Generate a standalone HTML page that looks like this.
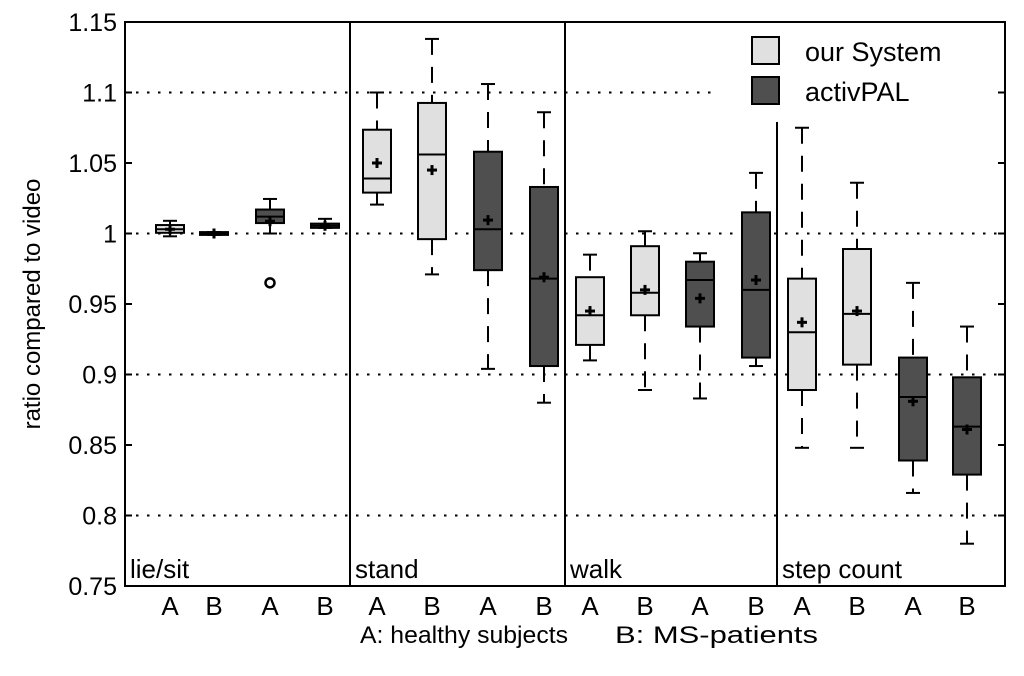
<!DOCTYPE html>
<html><head><meta charset="utf-8"><style>
body{margin:0;background:#fff;}
svg text{font-family:"Liberation Sans",sans-serif;fill:#000;}
</style></head><body>
<svg id="chart" width="1024" height="671" xmlns="http://www.w3.org/2000/svg">
<g id="grid"></g><g id="boxes"></g><g id="axes"></g>
</svg>
<script>
const categories=["lie/sit","stand","walk","step count"];
const groupLabels=["A","B","A","B"];
const yTicks=[0.75,0.8,0.85,0.9,0.95,1,1.05,1.1,1.15];
const yTickLabels=["0.75","0.8","0.85","0.9","0.95","1","1.05","1.1","1.15"];
const gridValues=[0.8,0.9,1,1.1];
const lowVals=[0.998,0.999,1.0,1.004, 1.0205,0.971,0.904,0.88, 0.910,0.889,0.883,0.906, 0.848,0.848,0.816,0.78];
const q1Vals=[1.0005,0.999,1.0074,1.004, 1.029,0.996,0.974,0.906, 0.921,0.942,0.934,0.912, 0.889,0.907,0.839,0.829];
const medVals=[1.003,1.0,1.012,1.0055, 1.039,1.056,1.003,0.968, 0.942,0.958,0.967,0.96, 0.930,0.943,0.884,0.863];
const q3Vals=[1.006,1.001,1.017,1.007, 1.0736,1.0926,1.058,1.033, 0.969,0.991,0.980,1.015, 0.968,0.989,0.912,0.898];
const highVals=[1.009,1.001,1.0245,1.0104, 1.1,1.138,1.106,1.086, 0.985,1.0016,0.986,1.043, 1.075,1.036,0.965,0.934];
const meanVals=[1.003,1.0,1.0087,1.0055, 1.05,1.045,1.0095,0.969, 0.945,0.96,0.954,0.967, 0.937,0.945,0.881,0.861];
const outliers=[[2,0.965]];

const NS="http://www.w3.org/2000/svg";
const L=125,R=1005,T=22,B=586;
const secStart=[125,350,565,777];
const slotOff=[[45,89,145,200],[27,82,138,194],[25,80,135,191],[25,80,136,190]];
const y=v=>B-(v-0.75)/(0.4)*(B-T);
const x=i=>secStart[Math.floor(i/4)]+slotOff[Math.floor(i/4)][i%4];
function mk(p,tag,attrs){const e=document.createElementNS(NS,tag);for(const k in attrs)e.setAttribute(k,attrs[k]);p.appendChild(e);return e;}
const grid=document.getElementById('grid'),boxes=document.getElementById('boxes'),axes=document.getElementById('axes');
gridValues.forEach(v=>{
 const xe=(v===1.1)?718:R;
 const g=mk(grid,'line',{x1:L,x2:xe,y1:y(v),y2:y(v),stroke:'#000','stroke-width':2,'stroke-dasharray':'2.5,8.5'});
 
 
});
const bw=28;
for(let i=0;i<16;i++){
 const cx=x(i),dark=(i%4)>=2;
 const g=mk(boxes,'g',{});
 
 
 mk(g,'line',{x1:cx,x2:cx,y1:y(highVals[i]),y2:y(q3Vals[i]),stroke:'#000','stroke-width':2,'stroke-dasharray':'16,12'});
 mk(g,'line',{x1:cx,x2:cx,y1:y(q1Vals[i]),y2:y(lowVals[i]),stroke:'#000','stroke-width':2,'stroke-dasharray':'16,12'});
 mk(g,'line',{x1:cx-7,x2:cx+7,y1:y(highVals[i]),y2:y(highVals[i]),stroke:'#000','stroke-width':2});
 mk(g,'line',{x1:cx-7,x2:cx+7,y1:y(lowVals[i]),y2:y(lowVals[i]),stroke:'#000','stroke-width':2});
 const yt=y(q3Vals[i]),yb=y(q1Vals[i]);
 mk(g,'rect',{x:cx-bw/2,y:yt,width:bw,height:Math.max(yb-yt,2),fill:dark?'#4f4f4f':'#e0e0e0',stroke:'#000','stroke-width':2});
 mk(g,'line',{x1:cx-bw/2,x2:cx+bw/2,y1:y(medVals[i]),y2:y(medVals[i]),stroke:'#000','stroke-width':2});
 const my=y(meanVals[i]);
 mk(g,'line',{x1:cx-5,x2:cx+5,y1:my,y2:my,stroke:'#000','stroke-width':3});
 mk(g,'line',{x1:cx,x2:cx,y1:my-5,y2:my+5,stroke:'#000','stroke-width':3});
}
outliers.forEach(o=>{const c=mk(boxes,'circle',{cx:x(o[0]),cy:y(o[1]),r:4.5,fill:'#fff',stroke:'#000','stroke-width':2.5});
 
 });
const fr=mk(axes,'rect',{x:L,y:T,width:R-L,height:B-T,fill:'none',stroke:'#000','stroke-width':2});


for(let s=1;s<4;s++){
 const d=mk(axes,'line',{x1:secStart[s],x2:secStart[s],y1:(s===3?122:T),y2:B,stroke:'#000','stroke-width':2});
 
 
}
categories.forEach((c,s)=>{const t=mk(axes,'text',{x:secStart[s]+5,y:578,'font-size':26});t.textContent=c;
 
 });
yTicks.forEach((v,i)=>{
 mk(axes,'line',{x1:L,x2:L+7,y1:y(v),y2:y(v),stroke:'#000','stroke-width':2});
 mk(axes,'line',{x1:R-7,x2:R,y1:y(v),y2:y(v),stroke:'#000','stroke-width':2});
 const t=mk(axes,'text',{x:L-8,y:y(v)+9,'font-size':25,'text-anchor':'end'});t.textContent=yTickLabels[i];
 
 
});
for(let i=0;i<16;i++){const t=mk(axes,'text',{x:x(i),y:615,'font-size':26,'text-anchor':'middle'});t.textContent=groupLabels[i%4];
 
 }
const cap1=mk(axes,'text',{x:360,y:643,'font-size':24,textLength:208,lengthAdjust:'spacingAndGlyphs'});cap1.textContent='A: healthy subjects';


const cap2=mk(axes,'text',{x:615,y:643,'font-size':24,textLength:203,lengthAdjust:'spacingAndGlyphs'});cap2.textContent='B: MS-patients';


const yt=mk(axes,'text',{x:0,y:0,'font-size':24,'text-anchor':'middle',transform:'translate(40,304) rotate(-90)'});yt.textContent='ratio compared to video';


[['our System','#e0e0e0',37],['activPAL','#4f4f4f',77]].forEach(l=>{
 const g=mk(axes,'g',{});
 
 
 mk(g,'rect',{x:752,y:l[2],width:27,height:27,fill:l[1],stroke:'#000','stroke-width':2});
 const t=mk(g,'text',{x:805,y:l[2]+24,'font-size':27});t.textContent=l[0];
});
</script>
</body></html>
